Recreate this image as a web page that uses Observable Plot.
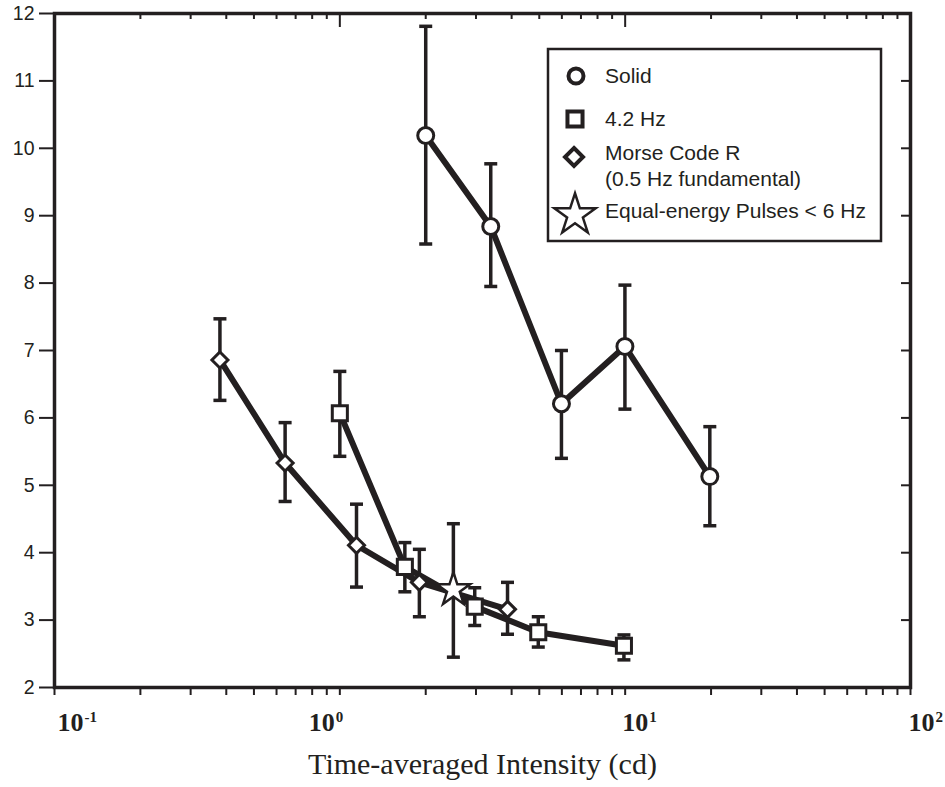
<!DOCTYPE html>
<html>
<head>
<meta charset="utf-8">
<script src="https://cdn.jsdelivr.net/npm/d3@7"></script>
<script src="https://cdn.jsdelivr.net/npm/@observablehq/plot@0.6"></script>
<style>
  body { margin: 0; background: #fff; }
  #wrap { position: relative; width: 945px; height: 787px; }
  #legend { position: absolute; left: 0; top: 0; }
</style>
</head>
<body>
<div id="wrap"></div>
<script>
// ---- data ----
const seriesNames = ["Solid", "4.2 Hz", "Morse Code R", "Equal-energy Pulses < 6 Hz"];

const solidX  = [2.0, 3.38, 5.98, 9.98, 19.8];
const solidY  = [10.19, 8.84, 6.21, 7.06, 5.13];
const solidLo = [8.58, 7.95, 5.40, 6.13, 4.40];
const solidHi = [11.81, 9.77, 7.00, 7.97, 5.87];

const hzX  = [1.0, 1.69, 2.97, 4.96, 9.9];
const hzY  = [6.07, 3.79, 3.20, 2.82, 2.62];
const hzLo = [5.43, 3.42, 2.92, 2.60, 2.41];
const hzHi = [6.69, 4.15, 3.48, 3.05, 2.78];

const morseX  = [0.38, 0.643, 1.144, 1.90, 3.87];
const morseY  = [6.86, 5.33, 4.11, 3.56, 3.16];
const morseLo = [6.26, 4.76, 3.49, 3.05, 2.79];
const morseHi = [7.47, 5.93, 4.72, 4.05, 3.56];

const starX  = [2.5];
const starY  = [3.45];
const starLo = [2.45];
const starHi = [4.43];

const yTicks = [2, 3, 4, 5, 6, 7, 8, 9, 10, 11, 12];
const xDecades = [0.1, 1, 10, 100];
const xExponents = ["-1", "0", "1", "2"];
const xTitle = "Time-averaged Intensity (cd)";

// ---- build table ----
function rows(name, xs, ys, lo, hi) {
  return xs.map((x, i) => ({series: name, x, y: ys[i], lo: lo[i], hi: hi[i]}));
}
const solid = rows(seriesNames[0], solidX, solidY, solidLo, solidHi);
const hz = rows(seriesNames[1], hzX, hzY, hzLo, hzHi);
const morse = rows(seriesNames[2], morseX, morseY, morseLo, morseHi);
const star = rows(seriesNames[3], starX, starY, starLo, starHi);
const all = [...solid, ...hz, ...morse, ...star];

const xMinor = [];
for (const d of [0.1, 1, 10]) for (let m = 2; m <= 9; m++) xMinor.push(+(m * d).toPrecision(3));
const xAllTicks = [...xDecades, ...xMinor];

// ---- layout / style ----
const W = 945, H = 787;
const mL = 54, mR = 35, mT = 13, mB = 100;
const innerW = W - mL - mR, innerH = H - mT - mB;
const ink = "#231f20";
const labelNudge = [3, -31, -3, -2];
const serif = "'Liberation Serif', 'Times New Roman', serif";

const cap = {draw(ctx) { ctx.moveTo(-6.5, 0); ctx.lineTo(6.5, 0); }};
const diamond = {draw(ctx, size) {
  const h = Math.sqrt(size / Math.PI);
  ctx.moveTo(0, -h); ctx.lineTo(h, 0); ctx.lineTo(0, h); ctx.lineTo(-h, 0); ctx.closePath();
}};

const bars = {strokeWidth: 3.5, stroke: ink};
const dotStyle = {fill: "white", stroke: ink, strokeWidth: 3};

const decadeLabels = xDecades.flatMap((d, i) => [
  Plot.text([d], {x: v => v, frameAnchor: "bottom", lineAnchor: "bottom", textAnchor: "start",
    dy: 43, dx: labelNudge[i], text: () => "10",
    fontFamily: serif, fontWeight: "bold", fontSize: 26, fill: ink}),
  Plot.text([d], {x: v => v, frameAnchor: "bottom", lineAnchor: "bottom", textAnchor: "start",
    dy: 34, dx: labelNudge[i] + 27, text: () => xExponents[i],
    fontFamily: serif, fontWeight: "bold", fontSize: 15, fill: ink})
]);

const chart = Plot.plot({
  width: W, height: H,
  marginLeft: mL, marginRight: mR, marginTop: mT, marginBottom: mB,
  x: {type: "log", domain: [0.1, 100], axis: null},
  y: {domain: [2, 12], axis: null},
  style: {fontFamily: "'Liberation Sans', Arial, sans-serif", fontSize: "19px", color: ink, background: "white"},
  marks: [
    Plot.axisY({ticks: yTicks, tickSize: 15, tickPadding: 5, tickFormat: d => d, label: null, strokeWidth: 2, fontSize: 19.5}),
    Plot.axisX({ticks: xAllTicks, tickSize: 8, tickFormat: () => "", label: null, strokeWidth: 2}),
    Plot.tickX(xMinor, {x: d => d, insetBottom: innerH - 6, stroke: ink, strokeWidth: 2}),
    Plot.tickX(xDecades, {x: d => d, insetBottom: innerH - 14, stroke: ink, strokeWidth: 2}),
    Plot.tickY(yTicks, {y: d => d, insetLeft: innerW - 9, stroke: ink, strokeWidth: 2}),
    ...decadeLabels,
    Plot.text([xTitle], {frameAnchor: "bottom", lineAnchor: "bottom", dy: 86, text: d => d,
      fontFamily: serif, fontSize: 30, fill: ink}),
    Plot.frame({stroke: ink, strokeWidth: 3.5}),
    // error bars
    Plot.ruleX(all, {x: "x", y1: "lo", y2: "hi", ...bars}),
    Plot.dot(all, {x: "x", y: "lo", symbol: cap, r: 5, ...bars}),
    Plot.dot(all, {x: "x", y: "hi", symbol: cap, r: 5, ...bars}),
    // lines
    Plot.line(solid, {x: "x", y: "y", stroke: ink, strokeWidth: 6}),
    Plot.line(hz, {x: "x", y: "y", stroke: ink, strokeWidth: 6}),
    Plot.line(morse, {x: "x", y: "y", stroke: ink, strokeWidth: 6}),
    // markers
    Plot.dot(solid, {x: "x", y: "y", symbol: "circle", r: 8, ...dotStyle}),
    Plot.dot(hz, {x: "x", y: "y", symbol: "square", r: 8.5, ...dotStyle}),
    Plot.dot(morse, {x: "x", y: "y", symbol: diamond, r: 8, ...dotStyle}),
    Plot.dot(star, {x: "x", y: "y", symbol: "star", r: 10.5, fill: "white", stroke: ink, strokeWidth: 2.5})
  ]
});

const wrap = document.getElementById("wrap");
wrap.appendChild(chart);

// ---- legend overlay ----
const lg = d3.select(wrap).append("svg").attr("id", "legend")
  .attr("width", W).attr("height", H)
  .style("font-family", "'Liberation Sans', Arial, sans-serif").style("font-size", "21px");
lg.append("rect").attr("x", 548).attr("y", 49).attr("width", 333).attr("height", 192)
  .attr("fill", "white").attr("stroke", ink).attr("stroke-width", 2.5);
const legendItems = [
  {sym: d3.symbolCircle, r: 7.5, cx: 576, cy: 76, lines: [seriesNames[0]], base: 83, sw: 4},
  {sym: d3.symbolSquare, r: 8.5, cx: 575, cy: 119, lines: [seriesNames[1]], base: 126, sw: 4},
  {sym: diamond, r: 9, cx: 574, cy: 157, lines: [seriesNames[2], "(0.5 Hz fundamental)"], base: 160, sw: 4},
  {sym: d3.symbolStar, r: 13, cx: 575, cy: 215, lines: [seriesNames[3]], base: 218, sw: 2.5}
];
for (const it of legendItems) {
  lg.append("path").attr("d", d3.symbol(it.sym, it.r * it.r * Math.PI)())
    .attr("transform", `translate(${it.cx},${it.cy})`)
    .attr("fill", "white").attr("stroke", ink).attr("stroke-width", it.sw);
  it.lines.forEach((t, j) => {
    lg.append("text").attr("x", 605).attr("y", it.base + j * 26).attr("fill", ink).text(t);
  });
}
</script>
</body>
</html>
